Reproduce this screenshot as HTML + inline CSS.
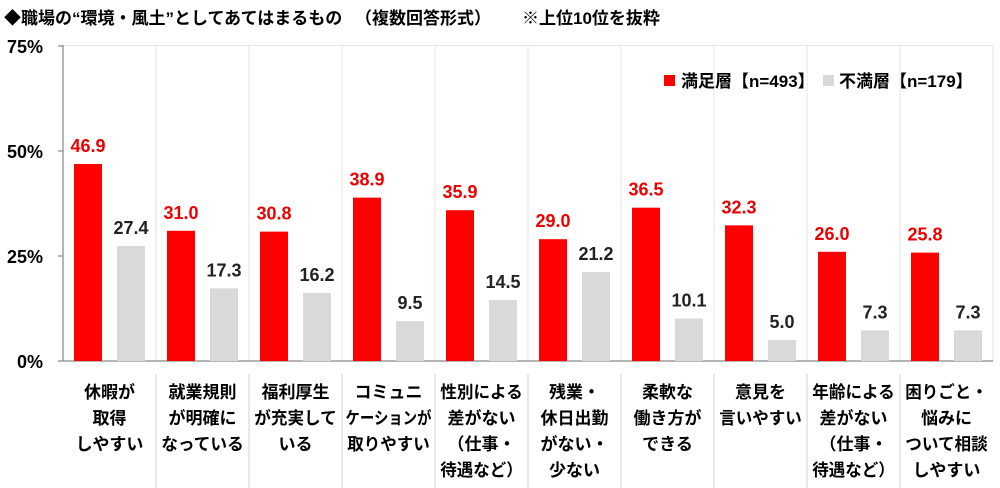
<!DOCTYPE html><html><head><meta charset="utf-8"><style>body{margin:0;background:#fff}svg{display:block}text{font-family:"Liberation Sans","Noto Sans CJK JP",sans-serif;font-weight:bold}</style></head><body>
<svg width="1000" height="488" viewBox="0 0 1000 488">
<text x="4" y="24" font-size="17">◆職場の“環境・風土”としてあてはまるもの</text>
<text x="355" y="24" font-size="17">（複数回答形式）</text>
<text x="522" y="24" font-size="17">※上位10位を抜粋</text>
<rect x="63" y="45.5" width="930" height="315.5" fill="none" stroke="#e4e4e4" stroke-width="1"/>
<g stroke="#e4e4e4" stroke-width="1">
<line x1="156" y1="46" x2="156" y2="361"/><line x1="249" y1="46" x2="249" y2="361"/><line x1="342" y1="46" x2="342" y2="361"/><line x1="435" y1="46" x2="435" y2="361"/><line x1="528" y1="46" x2="528" y2="361"/><line x1="621" y1="46" x2="621" y2="361"/><line x1="714" y1="46" x2="714" y2="361"/><line x1="807" y1="46" x2="807" y2="361"/><line x1="900" y1="46" x2="900" y2="361"/>
</g>
<g stroke="#d0d0d0" stroke-width="1">
<line x1="156" y1="374" x2="156" y2="488"/><line x1="249" y1="374" x2="249" y2="488"/><line x1="342" y1="374" x2="342" y2="488"/><line x1="435" y1="374" x2="435" y2="488"/><line x1="528" y1="374" x2="528" y2="488"/><line x1="621" y1="374" x2="621" y2="488"/><line x1="714" y1="374" x2="714" y2="488"/><line x1="807" y1="374" x2="807" y2="488"/><line x1="900" y1="374" x2="900" y2="488"/>
</g>
<g stroke="#888" stroke-width="1.2"><line x1="63" y1="45" x2="63" y2="361"/><line x1="58" y1="361" x2="993" y2="361"/><line x1="58" y1="256" x2="63" y2="256"/><line x1="58" y1="151" x2="63" y2="151"/><line x1="58" y1="46" x2="63" y2="46"/></g>
<g font-size="18" text-anchor="end"><text x="43" y="53">75%</text><text x="43" y="158">50%</text><text x="43" y="263">25%</text><text x="43" y="368">0%</text></g>
<rect x="664" y="75" width="11" height="11" fill="#f00"/><text x="681" y="87" font-size="17">満足層【n=493】</text>
<rect x="823" y="75" width="11" height="11" fill="#d9d9d9"/><text x="839" y="87" font-size="17">不満層【n=179】</text>
<g id="bars"></g>
<g id="cats" font-size="17" text-anchor="middle"></g>
</svg>
<script>
var r=[46.9,31.0,30.8,38.9,35.9,29.0,36.5,32.3,26.0,25.8],g=[27.4,17.3,16.2,9.5,14.5,21.2,10.1,5.0,7.3,7.3];
var L=[["休暇が","取得","しやすい"],["就業規則","が明確に","なっている"],["福利厚生","が充実して","いる"],["コミュニ","ケーションが","取りやすい"],["性別による","差がない","（仕事・","待遇など）"],["残業・","休日出勤","がない・","少ない"],["柔軟な","働き方が","できる"],["意見を","言いやすい"],["年齢による","差がない","（仕事・","待遇など）"],["困りごと・","悩みに","ついて相談","しやすい"]];
var s="",c="",k=4.2;
for(var i=0;i<10;i++){var x0=63+93*i;
var hr=r[i]*k,hg=g[i]*k;
s+='<rect x="'+(x0+11)+'" y="'+(361-hr)+'" width="28" height="'+hr+'" fill="#f00"/>';
s+='<rect x="'+(x0+54)+'" y="'+(361-hg)+'" width="28" height="'+hg+'" fill="#d9d9d9"/>';
s+='<text x="'+(x0+25)+'" y="'+(361-hr-12)+'" font-size="18" fill="#e00" text-anchor="middle">'+r[i].toFixed(1)+'</text>';
s+='<text x="'+(x0+68)+'" y="'+(361-hg-12)+'" font-size="18" fill="#222" text-anchor="middle">'+g[i].toFixed(1)+'</text>';
for(var j=0;j<L[i].length;j++){var t=L[i][j],n=t.length,ta='';
if(n>=5){ta=' textLength="'+Math.min(n*16.5,86)+'" lengthAdjust="spacingAndGlyphs"';}
c+='<text x="'+(x0+46.5)+'" y="'+(398+j*26)+'"'+ta+'>'+t+'</text>';}}
document.getElementById('bars').innerHTML=s;document.getElementById('cats').innerHTML=c;
</script>
</body></html>
